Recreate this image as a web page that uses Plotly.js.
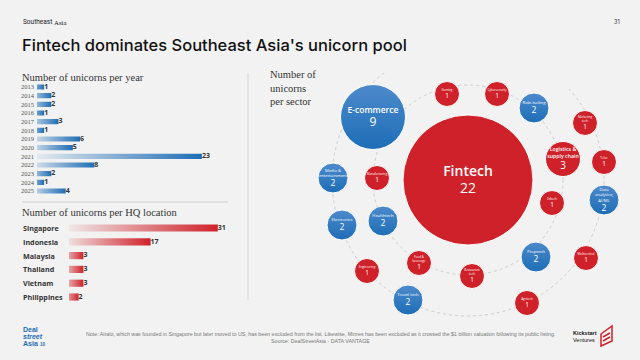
<!DOCTYPE html>
<html><head><meta charset="utf-8">
<script src="https://cdn.plot.ly/plotly-3.0.1.min.js"></script>
<style>html,body{margin:0;padding:0;background:#f2f2f2;}#chart{width:640px;height:360px;}</style>
</head><body><div id="chart"></div>
<script>
// ---------- DATA ----------
const years = ["2013","2014","2015","2016","2017","2018","2019","2020","2021","2022","2023","2024","2025"];
const yearCounts = [1,2,2,1,3,1,6,5,23,8,2,1,4];

const hqCountries = ["Singapore","Indonesia","Malaysia","Thailand","Vietnam","Philippines"];
const hqCounts = [31,17,3,3,3,2];

const sectors = ["Fintech","E-commerce","Logistics & supply chain","Ride-hailing","Media & entertainment","Electronics","Healthtech","Travel tech","Proptech","Data analytics; AI/ML","Gaming","Cybersecurity","Marketing tech","Telco","Edtech","Multivertical","Agritech","Restaurant tech","Food & beverage","Engineering","Manufacturing"];
const sectorCounts = [22,9,3,2,2,2,2,2,2,2,1,1,1,1,1,1,1,1,1,1,1];

// ---------- LAYOUT (positions / styles, px in the 640x360 frame) ----------
const sectorLabels = ["Fintech","E-commerce","Logistics &<br>supply chain","Ride-hailing","Media &<br>entertainment","Electronics","Healthtech","Travel tech","Proptech","Data<br>analytics;<br>AI/ML","Gaming","Cybersecurity","Marketing<br>tech","Telco","Edtech","Multivertical","Agritech","Restaurant<br>tech","Food &<br>beverage","Engineering","Manufacturing"];
const sectorPosX = [468,373,563,534,333,342,383,408,536,604,447,497,585,604,552,586,527,472,419,367,377];
const sectorPosY = [180,117,159,108,178,225,221,300,257,200,94,94,123,162,203,258,303,276,263,271,178];
const BLUE = "#1d6db6", RED = "#cf2129";
const isBlue = c => (c===2||c===9);
const sectorColors = sectorCounts.map(c => isBlue(c) ? "#4d8acc" : RED);
const sectorTopColors = sectorCounts.map(c => isBlue(c) ? BLUE : RED);

const W = 640, H = 360;
const px = x => x / W, py = y => 1 - y / H;

const traces = [];
// Year bars (gradient filled rectangles)
const yh = 0.3;
yearCounts.forEach((v,i) => {
  traces.push({type:"scatter", mode:"lines", xaxis:"x", yaxis:"y",
    x:[0,v,v,0,0], y:[i-yh,i-yh,i+yh,i+yh,i-yh], fill:"toself",
    line:{width:0,color:"rgba(0,0,0,0)"},
    fillgradient:{type:"horizontal", start:-1.6, stop:v,
      colorscale:[[0,"rgba(29,109,182,0)"],[1,BLUE]]},
    hoverinfo:"skip", showlegend:false});
});
traces.push({type:"scatter", mode:"text", xaxis:"x", yaxis:"y",
  x:yearCounts, y:years.map((_,i)=>i), text:yearCounts.map(String),
  textposition:"middle right", cliponaxis:false,
  textfont:{family:"Open Sans", size:7, color:"#333", weight:700}, hoverinfo:"skip", showlegend:false});

// HQ bars
const hh = 0.26;
hqCounts.forEach((v,i) => {
  traces.push({type:"scatter", mode:"lines", xaxis:"x2", yaxis:"y2",
    x:[0,v,v,0,0], y:[i-hh,i-hh,i+hh,i+hh,i-hh], fill:"toself",
    line:{width:0,color:"rgba(0,0,0,0)"},
    fillgradient:{type:"horizontal", start:-1.8, stop:v,
      colorscale:[[0,"rgba(207,33,41,0)"],[1,RED]]},
    hoverinfo:"skip", showlegend:false});
});
traces.push({type:"scatter", mode:"text", xaxis:"x2", yaxis:"y2",
  x:hqCounts, y:hqCountries.map((_,i)=>i), text:hqCounts.map(String),
  textposition:"middle right", cliponaxis:false,
  textfont:{family:"Open Sans", size:7, color:"#333", weight:700}, hoverinfo:"skip", showlegend:false});

// Bubbles
const radius = c => 10 + 2.5*c;
const nameSize = c => c>=20 ? 14 : c>=9 ? 8.5 : c>=3 ? 5.2 : c>=2 ? 4.2 : 3;
const numSize = c => c>=20 ? 14 : c>=9 ? 12 : c>=3 ? 10 : c>=2 ? 8.5 : 6.5;
traces.push({type:"scatter", mode:"markers", xaxis:"x3", yaxis:"y3",
  x:sectorPosX, y:sectorPosY,
  marker:{size:sectorCounts.map(c=>2*radius(c)), sizemode:"diameter", color:sectorColors, opacity:1,
    line:{width:1, color:"#ffffff"},
    gradient:{type:"vertical", color:sectorTopColors}},
  hoverinfo:"skip", showlegend:false});
// label block placement (name lines above, count below), centred on the bubble
const nameY = [], numY = [];
sectorLabels.forEach((l,i) => {
  const c = sectorCounts[i];
  const lines = l.split("<br>").length;
  const lh = nameSize(c)*1.3, nh = numSize(c), gap = c>=9 ? 1 : c>=3 ? 2 : 0.8;
  const total = lines*lh + gap + nh;
  nameY.push(sectorPosY[i] - total/2 + lines*lh/2);
  numY.push(sectorPosY[i] + total/2 - nh/2);
});
traces.push({type:"scatter", mode:"text", xaxis:"x3", yaxis:"y3",
  x:sectorPosX, y:nameY, text:sectorLabels,
  textposition:"middle center", cliponaxis:false,
  textfont:{family:"Open Sans", size:sectorCounts.map(nameSize), color:"#ffffff", weight:sectorCounts.map(c=>c>=3?600:500)},
  hoverinfo:"skip", showlegend:false});
traces.push({type:"scatter", mode:"text", xaxis:"x3", yaxis:"y3",
  x:sectorPosX, y:numY, text:sectorCounts.map(String),
  textposition:"middle center", cliponaxis:false,
  textfont:{family:"Open Sans", size:sectorCounts.map(numSize), color:"#ffffff", weight:sectorCounts.map(c=>c>=20?500:400)},
  hoverinfo:"skip", showlegend:false});

// Orbits
function arcPath(cx, cy, r, a0, a1) {
  let d = "";
  const n = 160;
  for (let k=0; k<=n; k++) {
    const a = (a0 + (a1-a0)*k/n) * Math.PI/180;
    const x = cx + r*Math.cos(a), y = cy - r*Math.sin(a);
    d += (k===0 ? "M" : " L") + x.toFixed(2) + "," + y.toFixed(2);
  }
  return d;
}
const shapes = [
  {type:"path", xref:"x3", yref:"y3", path:arcPath(468,180,95,0,360), line:{color:"#cdcdcd", width:1, dash:"dot"}, layer:"below"},
  {type:"path", xref:"x3", yref:"y3", path:arcPath(468,180,136,128,402), line:{color:"#cdcdcd", width:1, dash:"dot"}, layer:"below"},
  {type:"line", xref:"paper", yref:"paper", x0:px(22), x1:px(228), y0:py(202), y1:py(202), line:{color:"#cccccc", width:1}},
  {type:"line", xref:"paper", yref:"paper", x0:px(248), x1:px(248), y0:py(73), y1:py(300), line:{color:"#d4d4d4", width:1}},
  // Kickstart logo mark
  {type:"path", xref:"paper", yref:"paper",
   path:"M"+px(601)+","+py(334)+" L"+px(612)+","+py(326)+" L"+px(612)+","+py(341)+" L"+px(601)+","+py(346)+" Z",
   line:{color:RED, width:1.5}, fillcolor:"rgba(0,0,0,0)"},
  {type:"path", xref:"paper", yref:"paper",
   path:"M"+px(603)+","+py(337)+" L"+px(610)+","+py(333)+" M"+px(603)+","+py(341)+" L"+px(610)+","+py(337),
   line:{color:RED, width:1.5}}
];

const serif = "Liberation Serif";
const ann = (x,y,text,opts={}) => Object.assign({xref:"paper", yref:"paper", x:px(x), y:py(y), text:text,
  showarrow:false, xanchor:"left", yanchor:"middle", font:{family:"Inter", size:7, color:"#222"}}, opts);

const annotations = [
  ann(21,22,"Southeast",{font:{family:"Roboto",size:6.5,color:"#1a1a1a"}}),
  ann(52,22,"Asia",{font:{family:serif,size:6.8,color:"#1a1a1a"}}),
  ann(622,22,"31",{xanchor:"right", font:{family:"Inter",size:5.5,color:"#333"}}),
  ann(20,45,"Fintech dominates Southeast Asia's unicorn pool",{font:{family:"Inter",size:16.5,color:"#111",weight:500}}),
  ann(20,77,"Number of unicorns per year",{font:{family:serif,size:10.5,color:"#333"}}),
  ann(20,212,"Number of unicorns per HQ location",{font:{family:serif,size:10.5,color:"#333"}}),
  ann(268,88,"Number of<br>unicorns<br>per sector",{align:"left", font:{family:serif,size:10.5,color:"#333"}}),
  ann(320,334,"Note: Airalo, which was founded in Singapore but later moved to US, has been excluded from the list. Likewise, Minres has been excluded as it crossed the $1 billion valuation following its public listing.",{xanchor:"center", font:{family:"Liberation Sans",size:5.3,color:"#777"}}),
  ann(320,341,"Source: DealStreetAsia - DATA VANTAGE",{xanchor:"center", font:{family:"Liberation Sans",size:5.3,color:"#777"}}),
  ann(21,329,"<b>Deal</b>",{font:{family:"Liberation Sans",size:7,color:BLUE}}),
  ann(21,336,"<b><i>street</i></b>",{font:{family:"Liberation Sans",size:7,color:BLUE}}),
  ann(21,343,"<b>Asia</b>",{font:{family:"Liberation Sans",size:7,color:BLUE}}),
  ann(38,344,"<b>10</b>",{font:{family:"Liberation Sans",size:4.5,color:BLUE}}),
  ann(599,336,"<b>Kickstart</b><br>Ventures",{xanchor:"right", align:"left", font:{family:"Liberation Sans",size:5.5,color:"#111"}})
];
hqCountries.forEach((c,i) => annotations.push({xref:"paper", yref:"y2", x:px(21), y:i, text:c, showarrow:false,
  xanchor:"left", yanchor:"middle", font:{family:"Open Sans", size:7.2, color:"#333", weight:700}}));

const yearDomTop = 87 - 4.33, yearDomBot = 191 + 4.33;
const hqDomTop = 228 - 6.9, hqDomBot = 297 + 6.9;

const layout = {
  width:W, height:H, margin:{l:0,r:0,t:0,b:0},
  paper_bgcolor:"#f2f2f2", plot_bgcolor:"rgba(0,0,0,0)",
  showlegend:false,
  xaxis:{domain:[px(37), px(232)], range:[0,(232-37)/7.17], visible:false, fixedrange:true},
  yaxis:{domain:[py(yearDomBot), py(yearDomTop)], range:[12.5,-0.5], anchor:"x",
    tickvals:years.map((_,i)=>i), ticktext:years, showgrid:false, zeroline:false, showline:false,
    ticks:"", ticklabelstandoff:2, tickfont:{family:serif, size:6.5, color:"#555"}},
  xaxis2:{domain:[px(69), px(232)], range:[0,(232-69)/4.8], visible:false, anchor:"y2"},
  yaxis2:{domain:[py(hqDomBot), py(hqDomTop)], range:[5.5,-0.5], visible:false, anchor:"x2"},
  xaxis3:{domain:[0,1], range:[0,W], visible:false, anchor:"y3"},
  yaxis3:{domain:[0,1], range:[H,0], visible:false, anchor:"x3"},
  shapes:shapes, annotations:annotations
};
Plotly.newPlot("chart", traces, layout, {staticPlot:true, displayModeBar:false});
</script></body></html>
